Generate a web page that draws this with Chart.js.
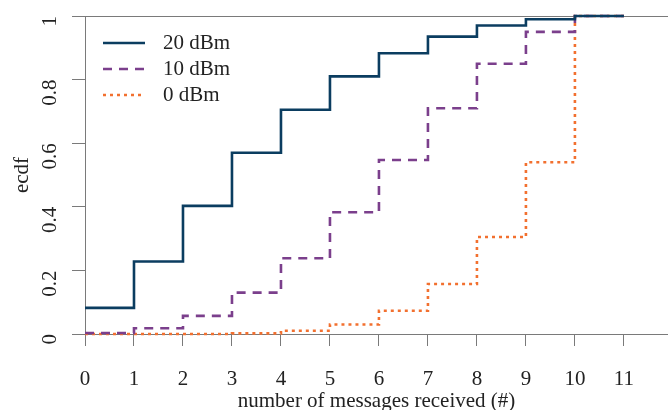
<!DOCTYPE html>
<html>
<head>
<meta charset="utf-8">
<script src="https://cdn.jsdelivr.net/npm/chart.js@4"></script>
<style>
  html, body { margin: 0; padding: 0; background: #ffffff; }
  #wrap { width: 668px; height: 410px; }
</style>
</head>
<body>
<div id="wrap"><canvas id="chartEcdf" width="668" height="410"></canvas></div>
<script>
// number of messages received (x positions of the steps)
const messages = [0, 1, 2, 3, 4, 5, 6, 7, 8, 9, 10, 11];
// ecdf values, one per message count
const ecdf20 = [0.082, 0.228, 0.403, 0.570, 0.705, 0.810, 0.883, 0.935, 0.970, 0.990, 1, 1];
const ecdf10 = [0.003, 0.018, 0.057, 0.130, 0.238, 0.383, 0.547, 0.710, 0.850, 0.950, 1, 1];
const ecdf0  = [0, 0, 0, 0.002, 0.010, 0.030, 0.073, 0.157, 0.305, 0.540, 1, 1];
const xTicks = [0, 1, 2, 3, 4, 5, 6, 7, 8, 9, 10, 11];
const yTicks = [0, 0.2, 0.4, 0.6, 0.8, 1];

const FONT = "Liberation Serif";
const axisGray = "#7a7a7a";
const textColor = "#222222";

const toPoints = vals => messages.map((m, i) => ({ x: m, y: vals[i] }));

// legend drawn inside the plot, top-left like the reference
const insideLegend = {
  id: "insideLegend",
  afterDraw(chart) {
    const ctx = chart.ctx;
    const area = chart.chartArea;
    ctx.save();
    ctx.font = "21px '" + FONT + "'";
    ctx.textBaseline = "middle";
    chart.data.datasets.forEach((ds, i) => {
      const y = area.top + 27 + i * 26;
      const x0 = area.left + 18;
      ctx.strokeStyle = ds.borderColor;
      ctx.lineWidth = ds.borderWidth;
      ctx.setLineDash(ds.borderDash || []);
      ctx.beginPath();
      ctx.moveTo(x0, y);
      ctx.lineTo(x0 + 42, y);
      ctx.stroke();
      ctx.setLineDash([]);
      ctx.fillStyle = textColor;
      ctx.fillText(ds.label, x0 + 60, y);
    });
    ctx.restore();
  }
};

new Chart(document.getElementById("chartEcdf").getContext("2d"), {
  type: "line",
  data: {
    datasets: [
      {
        label: "20 dBm",
        data: toPoints(ecdf20),
        borderColor: "#0b3d60",
        borderWidth: 2.6,
        stepped: true,
        pointRadius: 0,
        clip: false
      },
      {
        label: "10 dBm",
        data: toPoints(ecdf10),
        borderColor: "#7b3f8c",
        borderWidth: 2.6,
        borderDash: [9, 7],
        stepped: true,
        pointRadius: 0,
        clip: false
      },
      {
        label: "0 dBm",
        data: toPoints(ecdf0),
        borderColor: "#f2702f",
        borderWidth: 2.6,
        borderDash: [3, 4],
        stepped: true,
        pointRadius: 0,
        clip: false
      }
    ]
  },
  options: {
    responsive: false,
    animation: false,
    layout: { padding: { top: 16, right: 0, left: 0, bottom: 0 } },
    plugins: {
      legend: { display: false },
      tooltip: { enabled: false }
    },
    scales: {
      x: {
        type: "linear",
        min: 0,
        max: 11.9,
        afterBuildTicks: s => { s.ticks = xTicks.map(v => ({ value: v })); },
        afterFit: s => { s.height = 76; s.paddingLeft = 0; s.paddingRight = 0; },
        border: { display: true, color: axisGray, width: 1 },
        grid: { drawOnChartArea: false, drawTicks: true, tickLength: 12, color: axisGray },
        ticks: {
          color: textColor,
          font: { family: FONT, size: 21 },
          padding: 21,
          maxRotation: 0
        },
        title: {
          display: true,
          text: "number of messages received (#)",
          color: textColor,
          font: { family: FONT, size: 21 },
          padding: { top: 0, bottom: -4 }
        }
      },
      y: {
        type: "linear",
        min: 0,
        max: 1,
        afterBuildTicks: s => { s.ticks = yTicks.map(v => ({ value: v })); },
        afterFit: s => { s.width = 85; s.paddingTop = 0; s.paddingBottom = 0; },
        border: { display: true, color: axisGray, width: 1 },
        grid: {
          drawOnChartArea: true,
          drawTicks: true,
          tickLength: 13,
          color: c => (c.tick && (c.tick.value === 0 || c.tick.value === 1)) ? axisGray : "rgba(0,0,0,0)",
          tickColor: axisGray
        },
        ticks: {
          color: textColor,
          font: { family: FONT, size: 21 },
          padding: 22,
          minRotation: 90,
          maxRotation: 90,
          callback: v => String(v)
        },
        title: {
          display: true,
          text: "ecdf",
          color: textColor,
          font: { family: FONT, size: 21 },
          padding: { top: 10, bottom: 0 }
        }
      }
    }
  },
  plugins: [insideLegend]
});
</script>
</body>
</html>
